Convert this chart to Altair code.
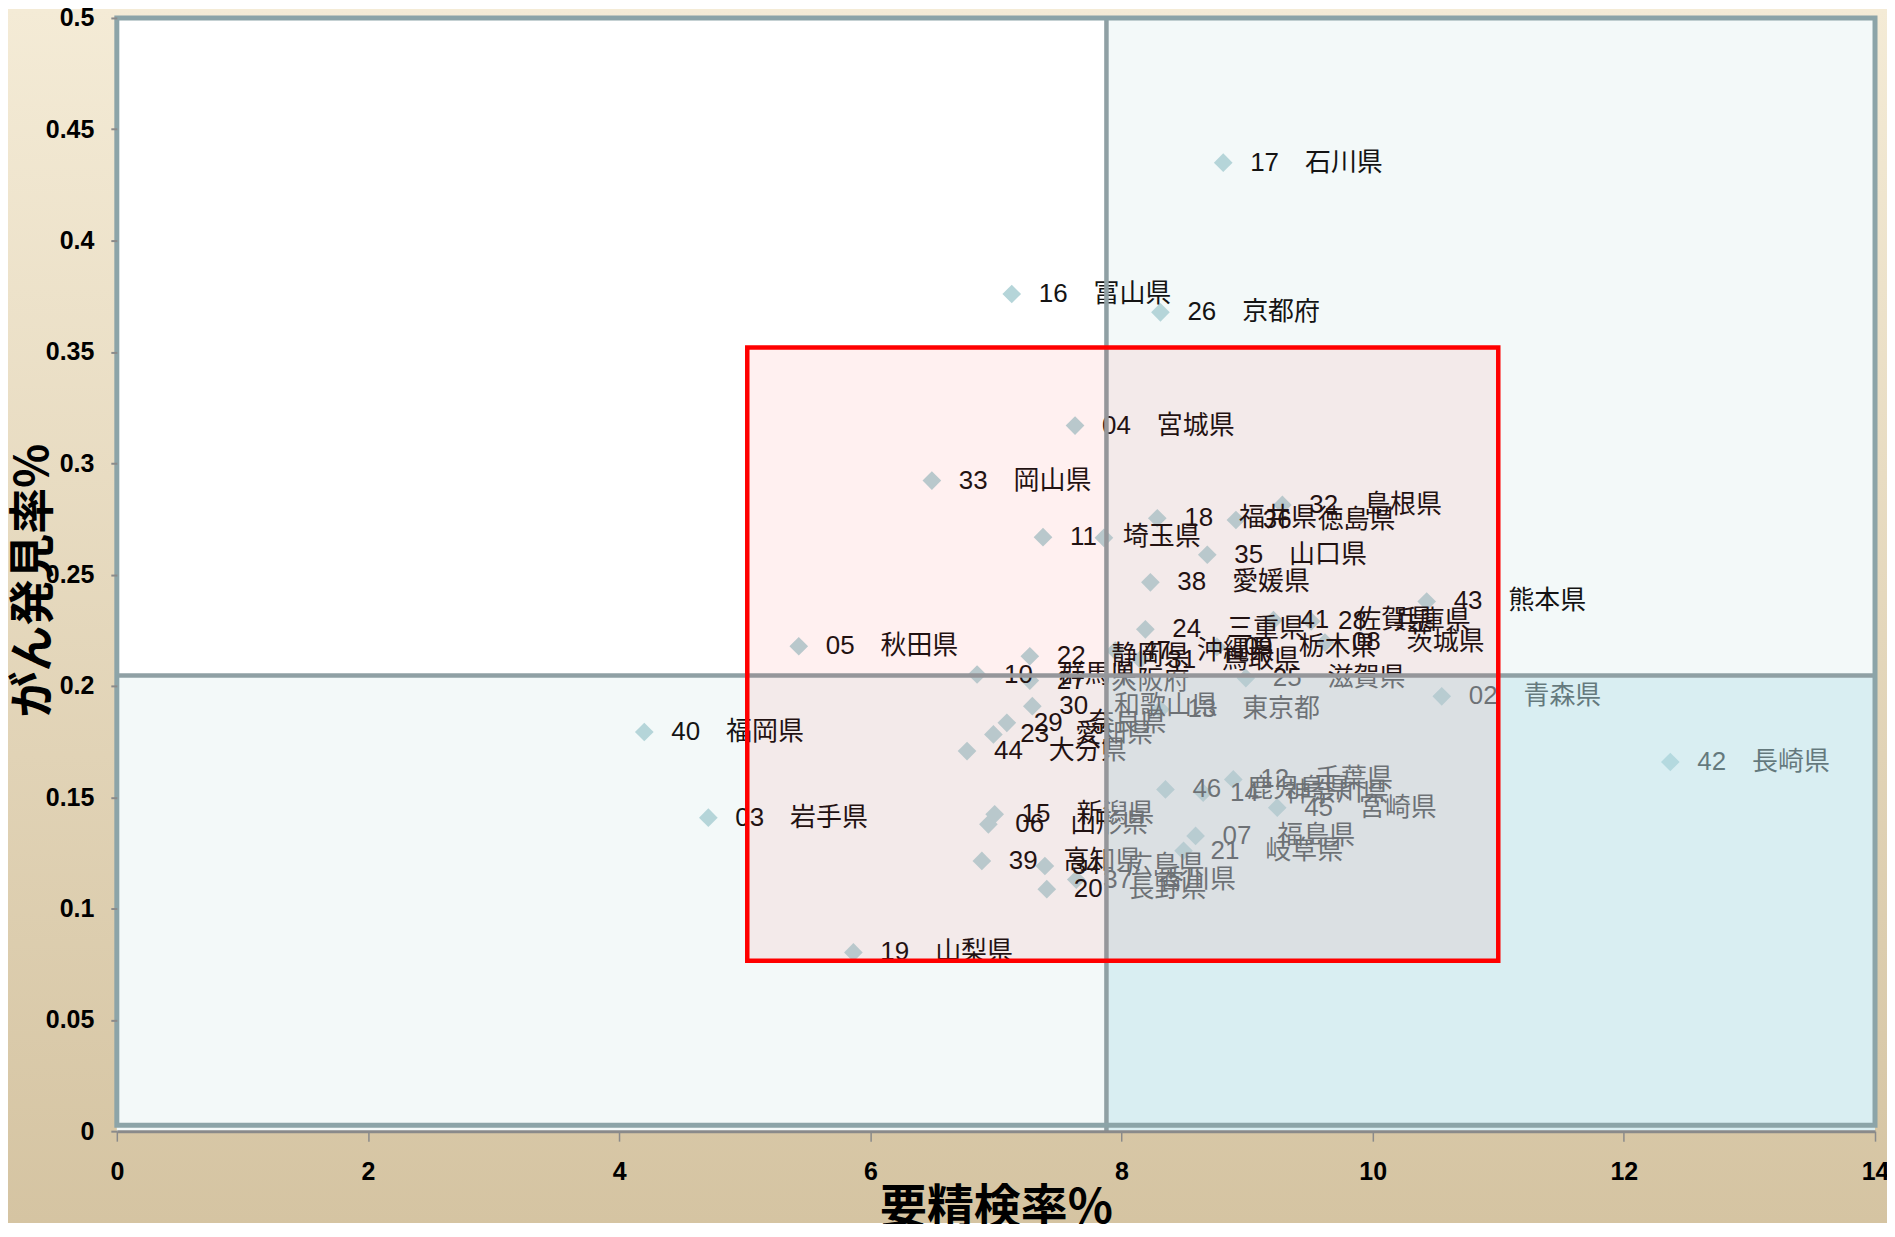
import altair as alt
import pandas as pd

# ---------------- data ----------------
codes = ["01", "02", "03", "04", "05", "06", "07", "08", "09", "10",
         "11", "12", "13", "14", "15", "16", "17", "18", "19", "20",
         "21", "22", "23", "24", "25", "26", "27", "28", "29", "30",
         "31", "32", "33", "34", "35", "36", "37", "38", "39", "40",
         "41", "42", "43", "44", "45", "46", "47"]
names = ["北海道", "青森県", "岩手県", "宮城県", "秋田県", "山形県", "福島県", "茨城県", "栃木県", "群馬県",
         "埼玉県", "千葉県", "東京都", "神奈川県", "新潟県", "富山県", "石川県", "福井県", "山梨県", "長野県",
         "岐阜県", "静岡県", "愛知県", "三重県", "滋賀県", "京都府", "大阪府", "兵庫県", "奈良県", "和歌山県",
         "鳥取県", "島根県", "岡山県", "広島県", "山口県", "徳島県", "香川県", "愛媛県", "高知県", "福岡県",
         "佐賀県", "長崎県", "熊本県", "大分県", "宮崎県", "鹿児島県", "沖縄県"]
# 要精検率 (%)
x_vals = [7.86, 10.55, 4.71, 7.63, 5.43, 6.94, 8.59, 9.62, 8.76, 6.85,
          7.375, 8.89, 8.31, 8.65, 6.99, 7.126, 8.81, 8.285, 5.865, 7.405,
          8.494, 7.27, 6.98, 8.19, 8.99, 8.31, 7.27, 9.51, 7.087, 7.29,
          8.15, 9.281, 6.49, 7.39, 8.683, 8.911, 7.64, 8.23, 6.888, 4.20,
          9.21, 12.37, 10.43, 6.77, 9.24, 8.35, 7.95]
# がん発見率 (%)
y_vals = [0.2665, 0.1953, 0.1408, 0.3169, 0.2178, 0.1378, 0.1326, 0.2195, 0.2175, 0.2051,
          0.2668, 0.1580, 0.1894, 0.1520, 0.1423, 0.3760, 0.4350, 0.2753, 0.0803, 0.1087,
          0.1259, 0.2133, 0.1782, 0.2254, 0.2035, 0.3678, 0.2024, 0.2290, 0.1834, 0.1909,
          0.2118, 0.2813, 0.2922, 0.1191, 0.2589, 0.2745, 0.1130, 0.2465, 0.1214, 0.1793,
          0.2295, 0.1658, 0.2379, 0.1707, 0.1453, 0.1535, 0.2158]
hidden_labels = ["01"]

x_mean = 7.88
y_mean = 0.2047
box_x = [5.02, 11.0]
box_y = [0.0765, 0.352]

x_domain = [0, 14]
y_domain = [0, 0.5]
x_ticks = [0, 2, 4, 6, 8, 10, 12, 14]
y_ticks = [0, 0.05, 0.1, 0.15, 0.2, 0.25, 0.3, 0.35, 0.4, 0.45, 0.5]

title_text = "要精検率 ― がん発見率"
x_title = "要精検率%"
y_title = "がん発見率%"

# ---------------- layout ----------------
W, H = 1761, 1115
PL, PT, PR, PB = 109, 9, 12, 92

LABEL_FONT = "Liberation Sans, Noto Sans CJK JP"
CJK_FONT = "Noto Sans CJK JP"

df = pd.DataFrame({"code": codes, "name": names, "x": x_vals, "y": y_vals})
df["label"] = ["" if c in hidden_labels else f"{c}\u3000{n}" for c, n in zip(codes, names)]

xs = alt.Scale(domain=x_domain, nice=False, zero=False)
ys = alt.Scale(domain=y_domain, nice=False, zero=False)

ax_x = alt.Axis(
    values=x_ticks, format="d", title=x_title, grid=False,
    labelFont="Liberation Sans", labelFontSize=25, labelFontWeight="bold", labelColor="#000000",
    labelBaseline="middle", labelPadding=30, labelFlush=False, labelOverlap=False, labelBound=False,
    tickSize=10, tickColor="#8a8a8a", tickWidth=1.5,
    domainColor="#8a8a8a", domainWidth=3,
    titleFont=CJK_FONT, titleFontSize=47, titleFontWeight="bold", titleColor="#000000",
    titleY=77, titleBaseline="middle", zindex=1)
ax_y = alt.Axis(
    values=y_ticks, format=".2~f", title=y_title, grid=False, domain=False,
    labelFont="Liberation Sans", labelFontSize=25, labelFontWeight="bold", labelColor="#000000",
    labelPadding=17, labelFlush=False, labelOverlap=False, labelBound=False,
    tickSize=6, tickColor="#8a8a8a", tickWidth=2,
    titleFont=CJK_FONT, titleFontSize=46, titleFontWeight="bold", titleColor="#000000",
    titleX=-83, titleY=563, titleAngle=270, titleAlign="center", titleBaseline="middle", zindex=1)

one = pd.DataFrame({"a": [0]})

# page background gradient (covers whole canvas)
bg = alt.Chart(one).mark_rect(
    color=alt.LinearGradient(
        gradient="linear",
        stops=[alt.GradientStop(offset=0, color="#f4ebd6"),
               alt.GradientStop(offset=1, color="#d5c4a2")],
        x1=0, x2=0, y1=0, y2=1)
).encode(x=alt.value(-PL), x2=alt.value(W + PR), y=alt.value(-PT), y2=alt.value(H + PB))

quad = pd.DataFrame({
    "x1": [x_domain[0], x_mean, x_domain[0], x_mean],
    "x2": [x_mean, x_domain[1], x_mean, x_domain[1]],
    "y1": [y_mean, y_mean, y_domain[0], y_domain[0]],
    "y2": [y_domain[1], y_domain[1], y_mean, y_mean],
    "fill": ["#ffffff", "#f3f9f9", "#f3f9f9", "#ffffff"],
})
quads = alt.Chart(quad).mark_rect().encode(
    x=alt.X("x1:Q", scale=xs, axis=ax_x), x2="x2:Q",
    y=alt.Y("y1:Q", scale=ys, axis=ax_y), y2="y2:Q",
    color=alt.Color("fill:N", scale=None),
)

points = alt.Chart(df).mark_point(shape="diamond", filled=True, size=350, color="#b5d5d9", opacity=1).encode(
    x=alt.X("x:Q", scale=xs, axis=ax_x),
    y=alt.Y("y:Q", scale=ys, axis=ax_y),
)

labels = alt.Chart(df).mark_text(align="left", baseline="middle", dx=27, fontSize=26,
                                 font=LABEL_FONT, color="#141414").encode(
    x=alt.X("x:Q", scale=xs, axis=ax_x),
    y=alt.Y("y:Q", scale=ys, axis=ax_y),
    text="label:N",
)

overlay_df = pd.DataFrame({"x1": [x_mean], "x2": [x_domain[1]], "y1": [y_domain[0]], "y2": [y_mean]})
overlay = alt.Chart(overlay_df).mark_rect(color="#b3dde5", opacity=0.5).encode(
    x=alt.X("x1:Q", scale=xs, axis=ax_x), x2="x2:Q",
    y=alt.Y("y1:Q", scale=ys, axis=ax_y), y2="y2:Q",
)

vline = alt.Chart(pd.DataFrame({"x": [x_mean]})).mark_rule(color="#8fa0a4", strokeWidth=4.5).encode(
    x=alt.X("x:Q", scale=xs, axis=ax_x))
hline = alt.Chart(pd.DataFrame({"y": [y_mean]})).mark_rule(color="#8fa0a4", strokeWidth=4.5).encode(
    y=alt.Y("y:Q", scale=ys, axis=ax_y))

box_df = pd.DataFrame({"x1": [box_x[0]], "x2": [box_x[1]], "y1": [box_y[0]], "y2": [box_y[1]]})
box = alt.Chart(box_df).mark_rect(fill="#ff0000", fillOpacity=0.06, stroke="#ff0000", strokeWidth=4.5).encode(
    x=alt.X("x1:Q", scale=xs, axis=ax_x), x2="x2:Q",
    y=alt.Y("y1:Q", scale=ys, axis=ax_y), y2="y2:Q",
)

border = alt.Chart(one).mark_rect(fillOpacity=0, stroke="#8ca4a8", strokeWidth=5).encode(
    x=alt.value(0), x2=alt.value(W), y=alt.value(0), y2=alt.value(H - 6))

title_mark = alt.Chart(pd.DataFrame({"t": [title_text]})).mark_text(
    align="center", baseline="bottom", fontSize=46, fontWeight="bold", font=CJK_FONT, color="#000000"
).encode(x=alt.value(W / 2 - 20), y=alt.value(-7), text="t:N")

chart = alt.layer(bg, quads, points, labels, overlay, vline, hline, box, border, title_mark).properties(
    width=W, height=H,
    autosize=alt.AutoSizeParams(type="none"),
    padding={"left": PL, "top": PT, "right": PR, "bottom": PB},
).configure_view(stroke=None)

chart.save("out.html", embed_options={"renderer": "svg", "actions": False})
